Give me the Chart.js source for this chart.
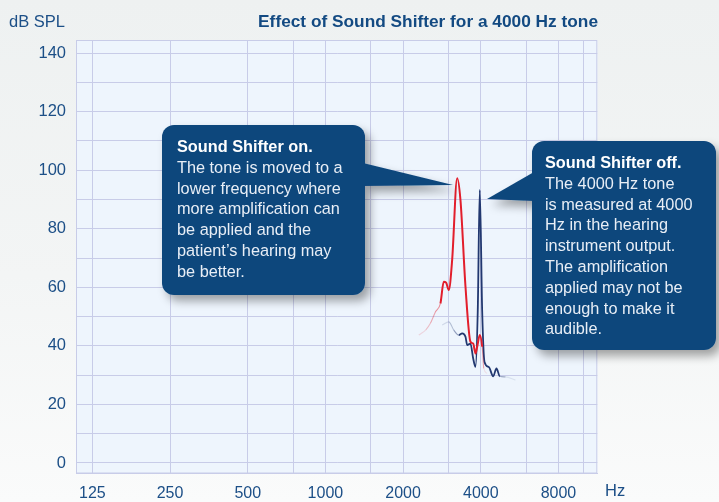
<!DOCTYPE html>
<html>
<head>
<meta charset="utf-8">
<script src="https://cdn.jsdelivr.net/npm/chart.js@4/dist/chart.umd.min.js"></script>
<style>
  body { margin: 0; width: 719px; height: 502px; overflow: hidden;
    font-family: "Liberation Sans", Arial, sans-serif;
    background: linear-gradient(180deg, #eef1f1 0%, #f3f5f5 55%, #fafbfb 100%); }
  #wrap { position: relative; width: 719px; height: 502px; }
  #chart { position: absolute; left: 0; top: 0; }
  .lbl { position: absolute; color: #1c4f87; font-size: 16.5px; white-space: nowrap; line-height: 1; }
  #title { font-weight: bold; font-size: 17.3px; right: 121px; top: 13px; color: #134a82; }
  #ylab { left: 9px; top: 13px; }
  #xlab { left: 605px; top: 482px; }
  #callouts { position: absolute; left: 0; top: 0; }
  .note { position: absolute; color: #e8eef6; font-size: 16.3px; line-height: 20.8px; white-space: nowrap; }
  .note b { color: #ffffff; }
</style>
</head>
<body>
<div id="wrap">
  <canvas id="chart" width="719" height="502"></canvas>
  <div class="lbl" id="title">Effect of Sound Shifter for a 4000 Hz tone</div>
  <div class="lbl" id="ylab">dB SPL</div>
  <div class="lbl" id="xlab">Hz</div>
  <svg id="callouts" width="719" height="502">
    <defs>
      <filter id="sh" x="-20%" y="-20%" width="140%" height="140%">
        <feDropShadow dx="5" dy="6" stdDeviation="5" flood-color="#000" flood-opacity="0.35"/>
      </filter>
    </defs>
    <g filter="url(#sh)" fill="#0c467c">
      <rect x="162" y="125" width="203" height="170" rx="12"/>
      <polygon points="363,163 453,185 363,186"/>
      <rect x="532" y="141" width="184" height="209" rx="12"/>
      <polygon points="534,172 487,199 534,201"/>
    </g>
  </svg>
  <div class="note" style="left:177px; top:136px;">
    <b>Sound Shifter on.</b><br>The tone is moved to a<br>lower frequency where<br>more amplification can<br>be applied and the<br>patient’s hearing may<br>be better.
  </div>
  <div class="note" style="left:545px; top:152px;">
    <b>Sound Shifter off.</b><br>The 4000 Hz tone<br>is measured at 4000<br>Hz in the hearing<br>instrument output.<br>The amplification<br>applied may not be<br>enough to make it<br>audible.
  </div>
</div>
<script>
// frequencies with a grid line, and the ones that get a label
const xGrid = [125, 250, 500, 750, 1000, 1500, 2000, 3000, 4000, 6000, 8000, 10000];
const xLabels = [125, 250, 500, 1000, 2000, 4000, 8000];
const yGrid = [0, 10, 20, 30, 40, 50, 60, 70, 80, 90, 100, 110, 120, 130, 140];
const yLabels = [0, 20, 40, 60, 80, 100, 120, 140];

// Sound Shifter on (red)
const onHz = [2300, 2450, 2552, 2668, 2791, 2874, 2936, 3006, 3098, 3240, 3337, 3490, 3648, 3738, 3816, 3874, 3964, 4050, 4109, 4232];
const onDb = [43.7, 45.5, 47.7, 51.6, 54.5, 61.9, 61.6, 59.1, 69.3, 97.3, 89.8, 60.2, 41.4, 40.8, 37.4, 39.7, 43.7, 39.7, 32.3, 30.6];

// Sound Shifter off (navy)
const offHz = [2835, 3006, 3144, 3286, 3388, 3490, 3542, 3648, 3738, 3816, 3894, 3964, 4050, 4135, 4296, 4468, 4601, 4740, 4984, 5446];
const offDb = [47.1, 48.2, 45.4, 43.7, 44.3, 43.1, 40.3, 40.8, 35.7, 32.8, 52.2, 93.3, 52.0, 34.5, 32.8, 29.6, 32.3, 29.6, 29.4, 28.3];

const gridColor = '#c8cce8';
const textColor = '#1c4f87';
Chart.defaults.font.family = '"Liberation Sans", Arial, sans-serif';

function toPoints(xs, ys) {
  let pts = [];
  for (let i = 0; i < xs.length; i++) {
    pts.push({ x: xs[i], y: ys[i] });
  }
  return pts;
}

// faded, thinner ends of each trace
function fadeColor(rgb, first, last, n) {
  return ctx => {
    const i = ctx.p0DataIndex;
    if (i < first) return `rgba(${rgb},${0.15 + 0.45 * i / first})`;
    if (i >= last) return `rgba(${rgb},${0.4 - 0.3 * (i - last) / Math.max(1, n - 2 - last)})`;
    return `rgb(${rgb})`;
  };
}
function fadeWidth(w, first, last) {
  return ctx => {
    const i = ctx.p0DataIndex;
    return (i < first || i >= last) ? 1.1 : w;
  };
}

const plotBack = {
  id: 'plotBack',
  beforeDraw(chart) {
    const a = chart.chartArea;
    const c = chart.ctx;
    c.save();
    c.fillStyle = '#eef5fd';
    c.fillRect(a.left, a.top, a.right - a.left, a.bottom - a.top);
    c.restore();
  },
  beforeDatasetsDraw(chart) {
    const a = chart.chartArea;
    const c = chart.ctx;
    c.save();
    c.strokeStyle = gridColor;
    c.lineWidth = 1;
    c.strokeRect(a.left + 0.5, a.top + 0.5, a.right - a.left - 1, a.bottom - a.top - 1);
    c.restore();
  }
};

new Chart(document.getElementById('chart'), {
  type: 'line',
  data: {
    datasets: [{
      label: 'Sound Shifter on',
      data: toPoints(onHz, onDb),
      borderColor: 'rgb(226,30,44)',
      borderWidth: 2,
      cubicInterpolationMode: 'monotone',
      segment: {
        borderColor: fadeColor('226,30,44', 4, 17, onHz.length),
        borderWidth: fadeWidth(2, 4, 17)
      },
    }, {
      label: 'Sound Shifter off',
      data: toPoints(offHz, offDb),
      borderColor: 'rgb(34,56,112)',
      borderWidth: 1.8,
      cubicInterpolationMode: 'monotone',
      segment: {
        borderColor: fadeColor('34,56,112', 3, 17, offHz.length),
        borderWidth: fadeWidth(1.8, 3, 17)
      },
    }]
  },
  options: {
    responsive: false,
    animation: false,
    layout: { padding: { top: 40, right: 121.7, left: 0, bottom: 0 } },
    elements: { point: { radius: 0 } },
    plugins: { legend: { display: false }, tooltip: { enabled: false } },
    scales: {
      x: {
        type: 'logarithmic',
        min: 108,
        max: 11314,
        afterBuildTicks: s => { s.ticks = xGrid.map(v => ({ value: v })); },
        afterFit: s => { s.height = 28.5; },
        grid: { color: gridColor, drawTicks: false },
        border: { color: gridColor },
        ticks: {
          autoSkip: false, maxRotation: 0, padding: 10,
          color: textColor, font: { size: 16 },
          callback: v => xLabels.includes(v) ? String(v) : ''
        }
      },
      y: {
        min: -3.6,
        max: 144.5,
        afterBuildTicks: s => { s.ticks = yGrid.map(v => ({ value: v })); },
        afterFit: s => { s.width = 76; },
        grid: { color: gridColor, drawTicks: false },
        border: { color: gridColor },
        ticks: {
          padding: 10,
          color: textColor, font: { size: 16.5 },
          callback: v => yLabels.includes(v) ? String(v) : ''
        }
      }
    }
  },
  plugins: [plotBack]
});
</script>
</body>
</html>
